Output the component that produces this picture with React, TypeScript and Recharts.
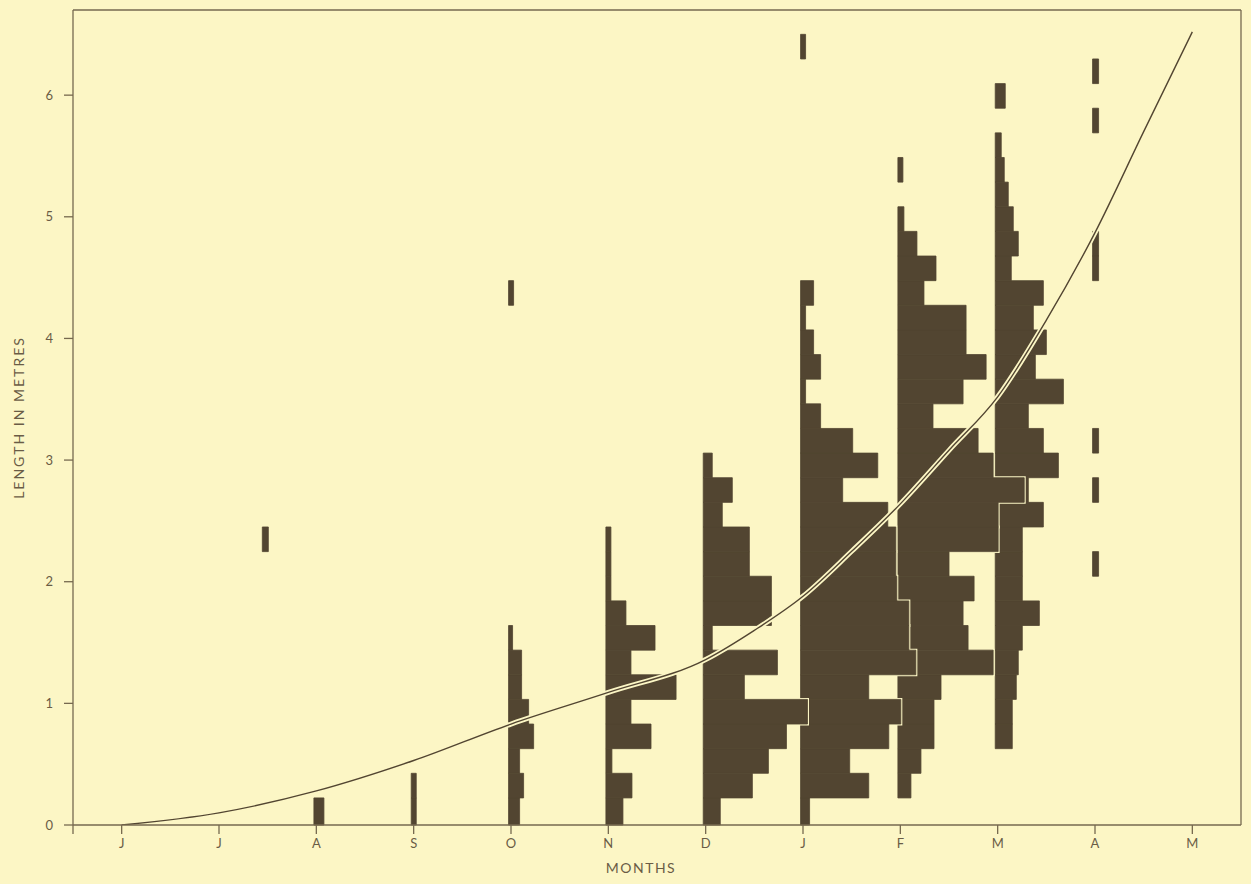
import React from "react";
import {
  ComposedChart,
  Line,
  XAxis,
  YAxis,
  ReferenceArea,
  ReferenceLine,
  Label,
} from "recharts";

// month axis starts in June (index 0) and runs to the following May (index 11)
const MONTH_LABELS = ["J", "J", "A", "S", "O", "N", "D", "J", "F", "M", "A", "M"];
const LENGTH_TICKS = [0, 1, 2, 3, 4, 5, 6];

// mean growth curve
const CURVE_MONTHS = [0, 1, 2, 3, 4, 5, 6, 6.5, 7, 7.5, 8, 8.5, 9, 9.5, 10, 10.5, 11];
const CURVE_LENGTHS = [0, 0.1, 0.28, 0.53, 0.83, 1.09, 1.36, 1.6, 1.88, 2.25, 2.64, 3.08, 3.52, 4.15, 4.87, 5.7, 6.52];

// length classes as drawn: lower edge of class k = CLASS_START + k * CLASS_SIZE (m)
const CLASS_START = 0.02;
const CLASS_SIZE = 0.2025;

// frequencies per length class (lowest class first), one histogram per month
const OCT_FIRST = 0;
const OCT_FREQ = [11, 15, 11, 25, 20, 13, 13, 4];
const NOV_FIRST = 0;
const NOV_FREQ = [17, 26, 6, 45, 25, 70, 25, 49, 20, 5, 5, 5];
const DEC_FIRST = 0;
const DEC_FREQ = [17, 49, 65, 83, 104, 41, 74, 9, 68, 68, 46, 46, 19, 29, 9];
const JAN_FIRST = 0;
const JAN_FREQ = [9, 68, 49, 88, 100, 68, 115, 108, 108, 96, 95, 95, 87, 42, 77, 52, 20, 5, 20, 13, 5, 13];
const FEB_FIRST = 1;
const FEB_FREQ = [13, 23, 36, 36, 43, 95, 70, 65, 76, 51, 100, 100, 126, 95, 80, 35, 65, 88, 68, 68, 26, 38, 19, 6];
const MAR_FIRST = 3;
const MAR_FREQ = [17, 17, 21, 23, 27, 44, 27, 27, 27, 48, 33, 63, 48, 33, 68, 40, 51, 38, 48, 16, 23, 18, 13, 9, 6];

// isolated records (month position, length class, frequency)
const SINGLE_MONTHS = [1.47, 2, 3, 3, 4, 7, 8, 9, 10, 10, 10, 10, 10, 10, 10];
const SINGLE_CLASSES = [11, 0, 0, 1, 21, 31, 26, 29, 30, 28, 23, 22, 15, 13, 10];
const SINGLE_FREQS = [6, 10, 5, 5, 5, 5, 5, 10, 6, 6, 6, 6, 6, 6, 6];

const BG = "#fcf6c5";
const INK = "#524531";
const AXIS = "#76694f";
const TEXT = "#6a5c45";
const FREQ_UNIT = 0.0103; // months of x-axis per frequency unit
const BAR_SHIFT = -0.025;

const classLow = (k: number) => (k === 0 ? 0 : CLASS_START + k * CLASS_SIZE);
const classHigh = (k: number) => CLASS_START + (k + 1) * CLASS_SIZE;

type Bin = { x1: number; x2: number; y1: number; y2: number };

function monthBins(month: number, first: number, freqs: number[]): Bin[] {
  return freqs.map((f, i) => {
    const x1 = month + BAR_SHIFT;
    return { x1, x2: x1 + f * FREQ_UNIT, y1: classLow(first + i), y2: classHigh(first + i) };
  });
}

// later months first so that earlier histograms sit on top with a light outline
const HISTOGRAMS: Bin[][] = [
  monthBins(9, MAR_FIRST, MAR_FREQ),
  monthBins(8, FEB_FIRST, FEB_FREQ),
  monthBins(7, JAN_FIRST, JAN_FREQ),
  monthBins(6, DEC_FIRST, DEC_FREQ),
  monthBins(5, NOV_FIRST, NOV_FREQ),
  monthBins(4, OCT_FIRST, OCT_FREQ),
];

const SINGLES: Bin[] = SINGLE_MONTHS.map((m, i) => {
  const x1 = m + BAR_SHIFT;
  return { x1, x2: x1 + SINGLE_FREQS[i] * FREQ_UNIT, y1: classLow(SINGLE_CLASSES[i]), y2: classHigh(SINGLE_CLASSES[i]) };
});

const X_TICKS = [-0.5, ...MONTH_LABELS.map((_, i) => i)];

export default function App() {
  const curveData = CURVE_MONTHS.map((m, i) => ({ m, len: CURVE_LENGTHS[i] }));

  const areas: React.ReactNode[] = [];
  HISTOGRAMS.forEach((bins, h) => {
    bins.forEach((b, i) =>
      areas.push(
        <ReferenceArea key={`halo-${h}-${i}`} {...b} fill={BG} fillOpacity={1} stroke={BG} strokeWidth={3} ifOverflow="visible" />
      )
    );
    // thin same-colour stroke hides the seams between neighbouring classes
    bins.forEach((b, i) =>
      areas.push(
        <ReferenceArea key={`bar-${h}-${i}`} {...b} fill={INK} fillOpacity={1} stroke={INK} strokeWidth={0.8} ifOverflow="visible" />
      )
    );
  });
  SINGLES.forEach((b, i) =>
    areas.push(
      <ReferenceArea key={`single-${i}`} {...b} fill={INK} fillOpacity={1} stroke={INK} strokeWidth={0.8} ifOverflow="visible" />
    )
  );

  return (
    <div
      style={{
        position: "fixed",
        left: 0,
        top: 0,
        width: 1251,
        height: 884,
        background: BG,
        fontFamily: "Lato, 'Noto Sans', sans-serif",
      }}
    >
      <ComposedChart
        width={1251}
        height={884}
        data={curveData}
        margin={{ top: 10, right: 10, bottom: 29, left: 13 }}
      >
        <XAxis
          type="number"
          dataKey="m"
          domain={[-0.5, 11.5]}
          ticks={X_TICKS}
          allowDataOverflow
          tickFormatter={(v: number) => (v < 0 ? "" : MONTH_LABELS[v])}
          tick={{ fontSize: 13, fill: TEXT }}
          tickSize={9}
          tickMargin={5}
          stroke={AXIS}
          strokeWidth={1.3}
          height={30}
        >
          <Label
            value="MONTHS"
            position="bottom"
            offset={8}
            dx={-16}
            style={{ fontSize: 14, fill: TEXT, letterSpacing: 1.5 }}
          />
        </XAxis>
        <YAxis
          type="number"
          domain={[0, 6.7]}
          ticks={LENGTH_TICKS}
          allowDataOverflow
          tick={{ fontSize: 13, fill: TEXT }}
          tickSize={9}
          tickMargin={11}
          stroke={AXIS}
          strokeWidth={1.3}
          width={60}
        >
          <Label
            value="LENGTH IN METRES"
            angle={-90}
            position="insideLeft"
            offset={6}
            style={{ fontSize: 14, fill: TEXT, letterSpacing: 2, textAnchor: "middle" }}
          />
        </YAxis>

        <ReferenceLine y={6.7} stroke={AXIS} strokeWidth={1.3} ifOverflow="visible" />
        <ReferenceLine x={11.5} stroke={AXIS} strokeWidth={1.3} ifOverflow="visible" />

        {areas}

        <Line
          type="monotone"
          dataKey="len"
          stroke={BG}
          strokeWidth={5}
          dot={false}
          activeDot={false}
          isAnimationActive={false}
        />
        <Line
          type="monotone"
          dataKey="len"
          stroke={INK}
          strokeWidth={1.4}
          dot={false}
          activeDot={false}
          isAnimationActive={false}
        />
      </ComposedChart>
    </div>
  );
}
